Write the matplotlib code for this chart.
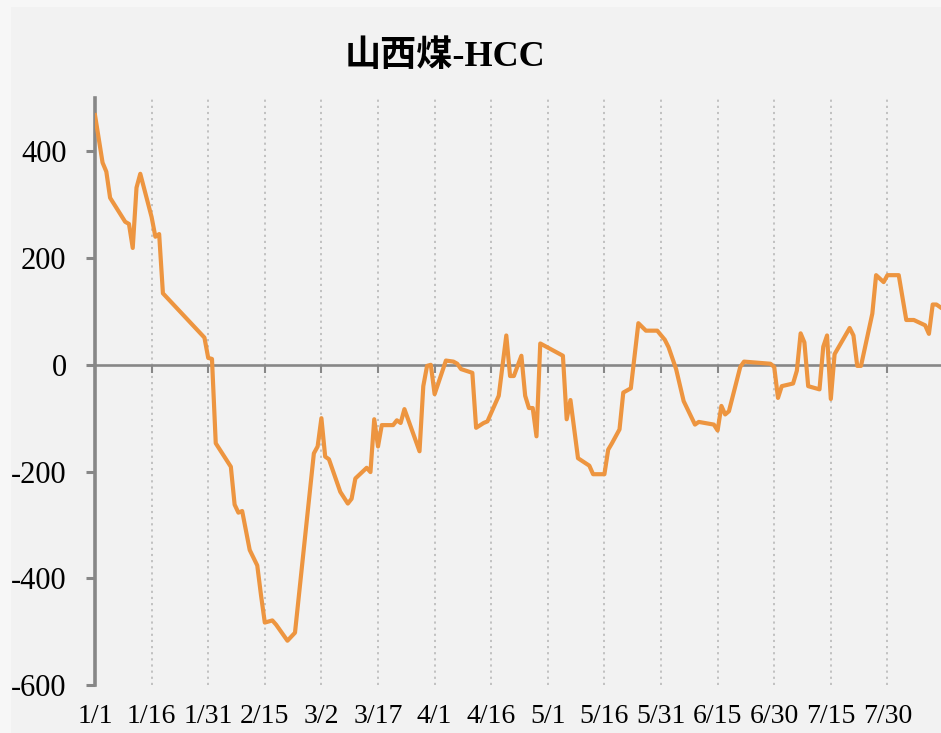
import matplotlib
matplotlib.use("Agg")
import matplotlib.pyplot as plt
from matplotlib.patches import Rectangle

# =========================
# DATA (day offset from 1/1, spread value)
# =========================

days = [0, 2, 3, 4, 8, 9, 10, 11, 12, 15, 16, 17, 18, 29, 30, 31, 32, 36, 37, 38,
        39, 41, 43, 44, 45, 47, 48, 51, 53, 58, 59, 60, 61, 62, 65, 67, 68, 69, 72, 73,
        74, 75, 76, 79, 80, 81, 82, 86, 87, 88, 89, 90, 93, 95, 96, 97, 100, 101, 103, 104,
        107, 109, 110, 111, 113, 114, 115, 116, 117, 118, 124, 125, 126, 128, 131, 132, 135, 136, 137, 139,
        140, 142, 144, 146, 149, 151, 152, 154, 156, 159, 160, 164, 165, 166, 167, 168, 171, 172, 179, 180,
        181, 182, 185, 186, 187, 188, 189, 192, 193, 194, 195, 196, 200, 201, 202, 203, 206, 207, 209, 210,
        213, 215, 217, 220, 221, 222, 223, 224]

values = [468, 379, 362, 313, 268, 264, 219, 332, 358, 277, 240, 245, 134, 51, 13, 11, -147, -191, -262, -277,
          -274, -347, -376, -432, -483, -479, -487, -517, -502, -166, -153, -100, -172, -177, -238, -260, -251, -213, -193, -201,
          -102, -153, -113, -113, -104, -109, -83, -162, -40, -2, 0, -55, 8, 6, 2, -8, -15, -118, -109, -106,
          -58, 55, -21, -21, 17, -58, -81, -81, -134, 40, 17, -102, -66, -175, -189, -205, -205, -159, -147, -121,
          -52, -44, 78, 64, 64, 47, 33, -8, -68, -112, -107, -112, -123, -77, -93, -87, -4, 6, 2, -4,
          -62, -40, -35, -11, 59, 42, -40, -46, 34, 55, -64, 20, 69, 55, -2, -2, 96, 168, 155, 168,
          168, 84, 84, 74, 58, 113, 113, 108]

tick_days = [0, 15, 30, 45, 60, 75, 90, 105, 120, 135, 150, 165, 180, 195, 210]
tick_labels = ["1/1", "1/16", "1/31", "2/15", "3/2", "3/17", "4/1", "4/16", "5/1",
               "5/16", "5/31", "6/15", "6/30", "7/15", "7/30"]
y_ticks = [-600, -400, -200, 0, 200, 400]

title = "山西煤-HCC"

# =========================
# PLOT
# =========================

serif = ["Liberation Serif", "Noto Sans CJK SC"]
gray = "#878787"

fig = plt.figure(figsize=(9.41, 7.33), dpi=100, facecolor="#f7f7f7")
fig.patches.append(Rectangle((11 / 941, 0), 1, 1 - 7 / 733, transform=fig.transFigure,
                             facecolor="#f2f2f2", edgecolor="none", zorder=-10))

ax = fig.add_axes([95 / 941, 48 / 733, 846 / 941, 587 / 733])
ax.set_facecolor("#f2f2f2")

ax.plot(days, values, color="#ED9540", linewidth=3.0, zorder=5, clip_on=True)

ax.set_xlim(0, 224.2)
ax.set_ylim(-600, 500)

# spines
for s in ["top", "right"]:
    ax.spines[s].set_visible(False)
ax.spines["left"].set_color(gray)
ax.spines["left"].set_linewidth(2.6)
ax.spines["bottom"].set_position(("data", 0))
ax.spines["bottom"].set_color(gray)
ax.spines["bottom"].set_linewidth(1.9)
ax.spines["bottom"].set_zorder(3)

ax.set_yticks(y_ticks)
ax.set_yticklabels([str(v) for v in y_ticks], family=serif, fontsize=22)
ax.tick_params(axis="y", direction="out", length=6.5, width=2.2, color=gray, pad=14)

ax.set_xticks(tick_days)
ax.tick_params(axis="x", direction="out", length=5.5, width=1.5, color=gray, labelbottom=False)
ax.grid(axis="x", linestyle=(0, (1.2, 2.2)), color="#bdbdbd", linewidth=1.3)
ax.grid(axis="y", visible=False)

# date labels along the bottom edge
secx = ax.secondary_xaxis(0.0)
secx.set_xticks(tick_days)
secx.set_xticklabels(tick_labels, family=serif, fontsize=20)
secx.tick_params(length=0, pad=14)
secx.spines["bottom"].set_visible(False)

fig.text(0.473, 0.922, title, ha="center", va="center", fontsize=26,
         fontweight="bold", family=serif)

plt.savefig("out.png", dpi=100, facecolor=fig.get_facecolor())
